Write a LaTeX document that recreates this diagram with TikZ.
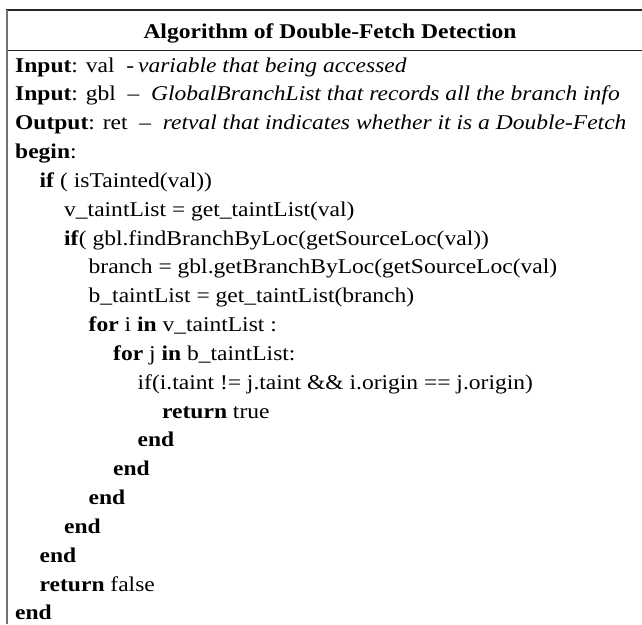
\documentclass[tikz,border=0pt]{standalone}
\usepackage{fontspec}
\setmainfont{Liberation Serif}[FakeStretch=1.12]
\begin{document}
\begin{tikzpicture}[x=1pt,y=1pt,
  txt/.style={anchor=base west, inner sep=0pt, text=black, font=\fontsize{21}{25}\selectfont},
  ttl/.style={anchor=base, inner sep=0pt, text=black, font=\fontsize{21}{25}\selectfont\bfseries},
  rule/.style={draw=black!85, line width=1.3pt},
  sideline/.style={draw=black!55, line width=2pt}]
\useasboundingbox (0,0) rectangle (642,-624);
\fill[white] (0,0) rectangle (642,-624);
% frame
\draw[rule] (6,-10) -- (642,-10);
\draw[rule] (6,-50.5) -- (642,-50.5);
\draw[sideline] (7,-10) -- (7,-624);
\node[ttl] (title) at (330,-38) {Algorithm of Double-Fetch Detection};
% lines
\def\ind{24.5}
\def\pitch{28.84}
\node[txt] (l0) at ({15+\ind*0},{-72-\pitch*0}) {\textbf{Input}: val~~-\hspace{4pt}\textit{variable that being accessed}};
\node[txt] (l1) at ({15+\ind*0},{-72-\pitch*1}) {\textbf{Input}: gbl~~–~~\textit{GlobalBranchList that records all the branch info}};
\node[txt] (l2) at ({15+\ind*0},{-72-\pitch*2}) {\textbf{Output}: ret~~–~~\textit{retval that indicates whether it is a Double-Fetch}};
\node[txt] (l3) at ({15+\ind*0},{-72-\pitch*3}) {\textbf{begin}:};
\node[txt] (l4) at ({15+\ind*1},{-72-\pitch*4}) {\textbf{if} ( isTainted(val))};
\node[txt] (l5) at ({15+\ind*2},{-72-\pitch*5}) {v\_taintList = get\_taintList(val)};
\node[txt] (l6) at ({15+\ind*2},{-72-\pitch*6}) {\textbf{if}( gbl.findBranchByLoc(getSourceLoc(val))};
\node[txt] (l7) at ({15+\ind*3},{-72-\pitch*7}) {branch = gbl.getBranchByLoc(getSourceLoc(val)};
\node[txt] (l8) at ({15+\ind*3},{-72-\pitch*8}) {b\_taintList = get\_taintList(branch)};
\node[txt] (l9) at ({15+\ind*3},{-72-\pitch*9}) {\textbf{for} i \textbf{in} v\_taintList :};
\node[txt] (l10) at ({15+\ind*4},{-72-\pitch*10}) {\textbf{for} j \textbf{in} b\_taintList:};
\node[txt] (l11) at ({15+\ind*5},{-72-\pitch*11}) {if(i.taint != j.taint \&\& i.origin == j.origin)};
\node[txt] (l12) at ({15+\ind*6},{-72-\pitch*12}) {\textbf{return} true};
\node[txt] (l13) at ({15+\ind*5},{-72-\pitch*13}) {\textbf{end}};
\node[txt] (l14) at ({15+\ind*4},{-72-\pitch*14}) {\textbf{end}};
\node[txt] (l15) at ({15+\ind*3},{-72-\pitch*15}) {\textbf{end}};
\node[txt] (l16) at ({15+\ind*2},{-72-\pitch*16}) {\textbf{end}};
\node[txt] (l17) at ({15+\ind*1},{-72-\pitch*17}) {\textbf{end}};
\node[txt] (l18) at ({15+\ind*1},{-72-\pitch*18}) {\textbf{return} false};
\node[txt] (l19) at ({15+\ind*0},{-72-\pitch*19}) {\textbf{end}};
\end{tikzpicture}
\end{document}
